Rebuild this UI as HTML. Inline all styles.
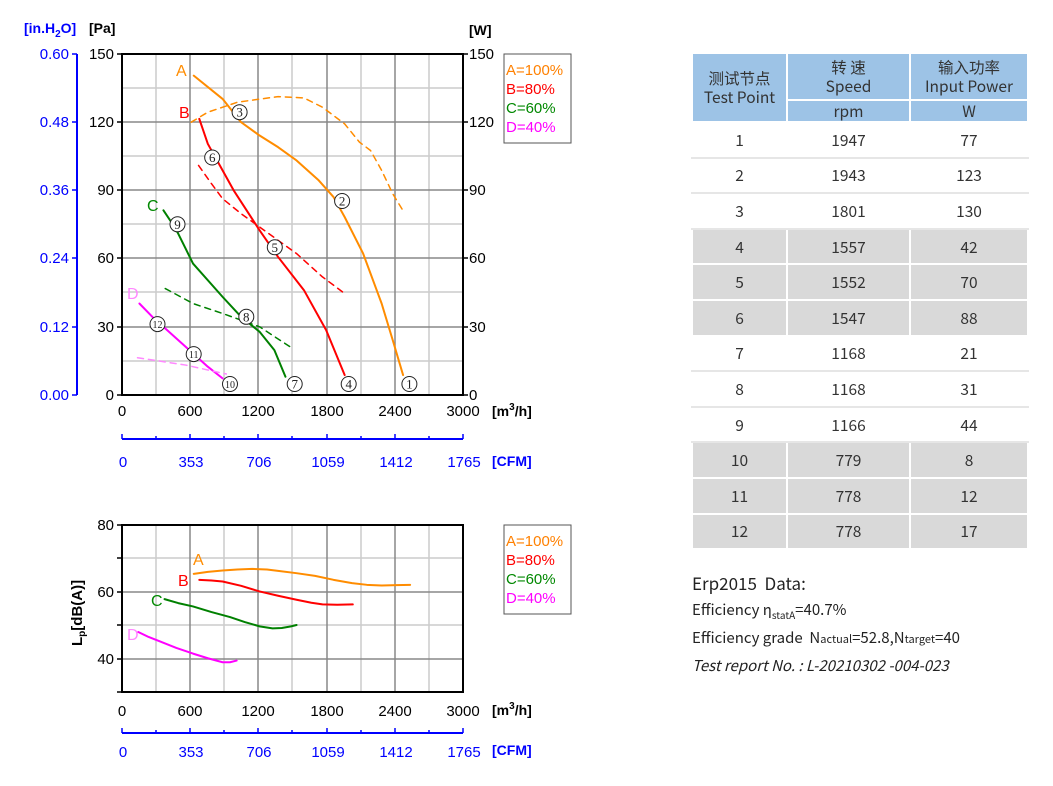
<!DOCTYPE html>
<html><head><meta charset="utf-8"><style>
body{margin:0;background:#fff;width:1053px;height:786px;overflow:hidden;position:relative;font-family:"Liberation Sans","Noto Sans CJK SC",sans-serif}
table{position:absolute;left:691px;top:52px;border-collapse:collapse;font-family:"Noto Sans CJK SC","Liberation Sans",sans-serif;font-size:15.5px;color:#333}
td{text-align:center;padding:0;border:2px solid #fff}
.h{background:#9dc3e6;line-height:19px}
.g td{background:#d9d9d9}
.w td{border-top:2px solid #e6e6e6;border-bottom:2px solid #e6e6e6}
.txt{position:absolute;left:692px;font-family:"Noto Sans CJK SC","Liberation Sans",sans-serif;color:#222;font-size:15px}
polyline{stroke-linejoin:round;stroke-linecap:round}
</style></head><body>
<svg width="1053" height="786" style="position:absolute;left:0;top:0" font-family="Liberation Sans,sans-serif">
<g stroke="#ccc" stroke-width="1.5">
<line x1="156" y1="54" x2="156" y2="395"/><line x1="224" y1="54" x2="224" y2="395"/><line x1="292" y1="54" x2="292" y2="395"/><line x1="361" y1="54" x2="361" y2="395"/><line x1="429" y1="54" x2="429" y2="395"/>
<line x1="122" y1="88" x2="463" y2="88"/><line x1="122" y1="156" x2="463" y2="156"/><line x1="122" y1="224" x2="463" y2="224"/><line x1="122" y1="292" x2="463" y2="292"/><line x1="122" y1="361" x2="463" y2="361"/>
</g>
<g stroke="#888" stroke-width="1.5">
<line x1="190" y1="54" x2="190" y2="395"/><line x1="258" y1="54" x2="258" y2="395"/><line x1="327" y1="54" x2="327" y2="395"/><line x1="395" y1="54" x2="395" y2="395"/>
<line x1="122" y1="122" x2="463" y2="122"/><line x1="122" y1="190" x2="463" y2="190"/><line x1="122" y1="258" x2="463" y2="258"/><line x1="122" y1="327" x2="463" y2="327"/>
</g>
<rect x="122" y="54" width="341" height="341" fill="none" stroke="#000" stroke-width="2"/>
<g stroke="#000" stroke-width="1.5">
<line x1="117" y1="54" x2="122" y2="54"/><line x1="117" y1="122" x2="122" y2="122"/><line x1="117" y1="190" x2="122" y2="190"/><line x1="117" y1="258" x2="122" y2="258"/><line x1="117" y1="327" x2="122" y2="327"/><line x1="117" y1="395" x2="122" y2="395"/>
<line x1="463" y1="54" x2="468" y2="54"/><line x1="463" y1="122" x2="468" y2="122"/><line x1="463" y1="190" x2="468" y2="190"/><line x1="463" y1="258" x2="468" y2="258"/><line x1="463" y1="327" x2="468" y2="327"/><line x1="463" y1="395" x2="468" y2="395"/>
</g>
<line x1="77" y1="54" x2="77" y2="395" stroke="#00f" stroke-width="2"/>
<g stroke="#00f" stroke-width="1.5"><line x1="72" y1="54" x2="77" y2="54"/><line x1="72" y1="122" x2="77" y2="122"/><line x1="72" y1="190" x2="77" y2="190"/><line x1="72" y1="258" x2="77" y2="258"/><line x1="72" y1="327" x2="77" y2="327"/><line x1="72" y1="395" x2="77" y2="395"/></g>
<g fill="#00f" font-size="15" text-anchor="end"><text x="69" y="59">0.60</text><text x="69" y="127">0.48</text><text x="69" y="195">0.36</text><text x="69" y="263">0.24</text><text x="69" y="332">0.12</text><text x="69" y="400">0.00</text></g>
<g fill="#000" font-size="15" text-anchor="end"><text x="114" y="59">150</text><text x="114" y="127">120</text><text x="114" y="195">90</text><text x="114" y="263">60</text><text x="114" y="332">30</text><text x="114" y="400">0</text></g>
<g fill="#000" font-size="15"><text x="469" y="59">150</text><text x="469" y="127">120</text><text x="469" y="195">90</text><text x="469" y="263">60</text><text x="469" y="332">30</text><text x="469" y="400">0</text></g>
<text x="24" y="33" fill="#00f" font-size="14" font-weight="bold">[in.H<tspan font-size="10" dy="4">2</tspan><tspan dy="-4">O]</tspan></text>
<text x="89" y="33" font-size="14" font-weight="bold">[Pa]</text>
<text x="469" y="35" font-size="14" font-weight="bold">[W]</text>
<g font-size="15" text-anchor="middle"><text x="122" y="416">0</text><text x="190" y="416">600</text><text x="258" y="416">1200</text><text x="327" y="416">1800</text><text x="395" y="416">2400</text><text x="463" y="416">3000</text></g>
<text x="492" y="416" font-size="14" font-weight="bold">[m<tspan font-size="10" dy="-6">3</tspan><tspan dy="6">/h]</tspan></text>
<line x1="122" y1="439" x2="463" y2="439" stroke="#00f" stroke-width="2"/>
<g stroke="#00f" stroke-width="1.5"><line x1="122" y1="434" x2="122" y2="439"/><line x1="156" y1="436" x2="156" y2="439"/><line x1="190" y1="434" x2="190" y2="439"/><line x1="224" y1="436" x2="224" y2="439"/><line x1="258" y1="434" x2="258" y2="439"/><line x1="292" y1="436" x2="292" y2="439"/><line x1="327" y1="434" x2="327" y2="439"/><line x1="361" y1="436" x2="361" y2="439"/><line x1="395" y1="434" x2="395" y2="439"/><line x1="429" y1="436" x2="429" y2="439"/><line x1="463" y1="434" x2="463" y2="439"/></g>
<g fill="#00f" font-size="15" text-anchor="middle"><text x="123" y="467">0</text><text x="191" y="467">353</text><text x="259" y="467">706</text><text x="328" y="467">1059</text><text x="396" y="467">1412</text><text x="464" y="467">1765</text></g>
<text x="492" y="466" fill="#00f" font-size="14" font-weight="bold">[CFM]</text>
<rect x="504" y="54" width="67" height="89" fill="none" stroke="#555" stroke-width="1"/>
<g font-size="15"><text x="506" y="75" fill="#ff8000">A=100%</text><text x="506" y="94" fill="#f00">B=80%</text><text x="506" y="113" fill="#080">C=60%</text><text x="506" y="132" fill="#f0f">D=40%</text></g>
<g transform="matrix(0.36985 0 0 0.33268 0.69 10.75)" fill="none">
<polyline vector-effect="non-scaling-stroke" stroke="#ff8c00" stroke-width="2" points="522,195 600,265 650,335 700,375 750,410 800,450 860,510 900,560 930,620 980,730 1030,880 1060,990 1088,1095"/>
<polyline vector-effect="non-scaling-stroke" stroke="#ff8c00" stroke-width="1.5" stroke-dasharray="6,5" points="515,335 560,305 640,275 750,258 820,262 870,290 930,340 970,395 1000,420 1030,480 1060,550 1090,605"/>
<polyline vector-effect="non-scaling-stroke" stroke="#f00" stroke-width="2" points="537,325 560,400 575,430 590,460 630,540 700,660 750,740 820,840 880,960 930,1095"/>
<polyline vector-effect="non-scaling-stroke" stroke="#f00" stroke-width="1.5" stroke-dasharray="6,5" points="535,465 570,520 600,565 650,610 700,650 800,730 870,800 930,850"/>
<polyline vector-effect="non-scaling-stroke" stroke="#008000" stroke-width="2" points="440,600 470,650 480,670 500,715 520,760 600,860 650,920 700,965 740,1020 770,1100"/>
<polyline vector-effect="non-scaling-stroke" stroke="#008000" stroke-width="1.5" stroke-dasharray="6,5" points="445,835 520,880 600,910 700,950 785,1012"/>
<polyline vector-effect="non-scaling-stroke" stroke="#f0f" stroke-width="2" points="375,880 410,920 450,960 500,1010 560,1070 600,1105"/>
<polyline vector-effect="non-scaling-stroke" stroke="#f8f" stroke-width="1.5" stroke-dasharray="6,5" points="370,1043 500,1065 610,1092"/>
</g>
<g font-size="16"><text x="176" y="76" fill="#ff8c00">A</text><text x="179" y="118" fill="#f00">B</text><text x="147" y="211" fill="#080">C</text><text x="127" y="299" fill="#f8f">D</text></g>
<g fill="#fff" stroke="#222" stroke-width="1">
<circle cx="409.4" cy="384" r="7.5"/><circle cx="342.1" cy="201" r="7.5"/><circle cx="239.6" cy="112.2" r="7.5"/><circle cx="348.7" cy="384" r="7.5"/><circle cx="274.8" cy="247.3" r="7.5"/><circle cx="212.2" cy="157.5" r="7.5"/><circle cx="294.7" cy="384" r="7.5"/><circle cx="246.3" cy="316.8" r="7.5"/><circle cx="177.5" cy="224.3" r="7.5"/><circle cx="230" cy="384" r="7.5"/><circle cx="193.7" cy="354.1" r="7.5"/><circle cx="157.5" cy="324.1" r="7.5"/>
</g>
<g font-size="13" text-anchor="middle" fill="#222" font-family="Liberation Serif,serif">
<text x="409.4" y="388.5">1</text><text x="342.1" y="205.5">2</text><text x="239.6" y="116.7">3</text><text x="348.7" y="388.5">4</text><text x="274.8" y="251.8">5</text><text x="212.2" y="162">6</text><text x="294.7" y="388.5">7</text><text x="246.3" y="321.3">8</text><text x="177.5" y="228.8">9</text><text x="230" y="388" font-size="10">10</text><text x="193.7" y="358" font-size="10">11</text><text x="157.5" y="328" font-size="10">12</text>
</g>
<g stroke="#ccc" stroke-width="1.5">
<line x1="156" y1="525" x2="156" y2="692"/><line x1="224" y1="525" x2="224" y2="692"/><line x1="292" y1="525" x2="292" y2="692"/><line x1="361" y1="525" x2="361" y2="692"/><line x1="429" y1="525" x2="429" y2="692"/>
<line x1="122" y1="558" x2="463" y2="558"/><line x1="122" y1="625" x2="463" y2="625"/>
</g>
<g stroke="#888" stroke-width="1.5">
<line x1="190" y1="525" x2="190" y2="692"/><line x1="258" y1="525" x2="258" y2="692"/><line x1="327" y1="525" x2="327" y2="692"/><line x1="395" y1="525" x2="395" y2="692"/>
<line x1="122" y1="592" x2="463" y2="592"/><line x1="122" y1="659" x2="463" y2="659"/>
</g>
<rect x="122" y="525" width="341" height="167" fill="none" stroke="#000" stroke-width="2"/>
<g stroke="#000" stroke-width="1.5"><line x1="117" y1="525" x2="122" y2="525"/><line x1="117" y1="558" x2="122" y2="558"/><line x1="117" y1="592" x2="122" y2="592"/><line x1="117" y1="625" x2="122" y2="625"/><line x1="117" y1="659" x2="122" y2="659"/><line x1="117" y1="692" x2="122" y2="692"/></g>
<g font-size="15" text-anchor="end"><text x="114" y="530">80</text><text x="114" y="597">60</text><text x="114" y="664">40</text></g>
<text transform="translate(82,646) rotate(-90)" font-size="15" font-weight="bold">L<tspan font-size="10" dy="3">p</tspan><tspan dy="-3">[dB(A)]</tspan></text>
<g font-size="15" text-anchor="middle"><text x="122" y="716">0</text><text x="190" y="716">600</text><text x="258" y="716">1200</text><text x="327" y="716">1800</text><text x="395" y="716">2400</text><text x="463" y="716">3000</text></g>
<text x="492" y="715" font-size="14" font-weight="bold">[m<tspan font-size="10" dy="-6">3</tspan><tspan dy="6">/h]</tspan></text>
<line x1="122" y1="733" x2="463" y2="733" stroke="#00f" stroke-width="2"/>
<g stroke="#00f" stroke-width="1.5"><line x1="122" y1="728" x2="122" y2="733"/><line x1="156" y1="730" x2="156" y2="733"/><line x1="190" y1="728" x2="190" y2="733"/><line x1="224" y1="730" x2="224" y2="733"/><line x1="258" y1="728" x2="258" y2="733"/><line x1="292" y1="730" x2="292" y2="733"/><line x1="327" y1="728" x2="327" y2="733"/><line x1="361" y1="730" x2="361" y2="733"/><line x1="395" y1="728" x2="395" y2="733"/><line x1="429" y1="730" x2="429" y2="733"/><line x1="463" y1="728" x2="463" y2="733"/></g>
<g fill="#00f" font-size="15" text-anchor="middle"><text x="123" y="757">0</text><text x="191" y="757">353</text><text x="259" y="757">706</text><text x="328" y="757">1059</text><text x="396" y="757">1412</text><text x="464" y="757">1765</text></g>
<text x="492" y="755" fill="#00f" font-size="14" font-weight="bold">[CFM]</text>
<rect x="504" y="525" width="67" height="89" fill="none" stroke="#555" stroke-width="1"/>
<g font-size="15"><text x="506" y="546" fill="#ff8000">A=100%</text><text x="506" y="565" fill="#f00">B=80%</text><text x="506" y="584" fill="#080">C=60%</text><text x="506" y="603" fill="#f0f">D=40%</text></g>
<g transform="matrix(0.36985 0 0 0.33234 0.69 500.07)" fill="none">
<polyline vector-effect="non-scaling-stroke" stroke="#ff8c00" stroke-width="2" points="522,222 560,216 600,212 640,209 680,207 720,209 750,213 800,220 850,228 900,240 950,250 990,255 1030,257 1070,256 1107,255"/>
<polyline vector-effect="non-scaling-stroke" stroke="#f00" stroke-width="2" points="537,240 570,242 600,245 650,258 700,275 750,288 800,300 840,309 870,314 910,315 952,314"/>
<polyline vector-effect="non-scaling-stroke" stroke="#008000" stroke-width="2" points="443,298 480,310 520,320 570,337 620,352 660,367 700,380 735,386 760,385 785,380 800,376"/>
<polyline vector-effect="non-scaling-stroke" stroke="#f0f" stroke-width="2" points="372,397 400,412 430,425 475,445 520,462 560,476 600,488 620,488 638,483"/>
</g>
<g font-size="16"><text x="193" y="565" fill="#ff8c00">A</text><text x="178" y="586" fill="#f00">B</text><text x="151" y="606" fill="#080">C</text><text x="127" y="640" fill="#f8f">D</text></g>
</svg>
<table>
<tr class="h" style="height:47px"><td rowspan="2" style="width:93px">测试节点<br>Test Point</td><td style="width:121px">转 速<br>Speed</td><td style="width:116px">输入功率<br>Input Power</td></tr>
<tr class="h" style="height:22px"><td>rpm</td><td>W</td></tr>
<tr class="w" style="height:35.6px"><td>1</td><td>1947</td><td>77</td></tr>
<tr class="w" style="height:35.6px"><td>2</td><td>1943</td><td>123</td></tr>
<tr class="w" style="height:35.6px"><td>3</td><td>1801</td><td>130</td></tr>
<tr class="g" style="height:35.6px"><td>4</td><td>1557</td><td>42</td></tr>
<tr class="g" style="height:35.6px"><td>5</td><td>1552</td><td>70</td></tr>
<tr class="g" style="height:35.6px"><td>6</td><td>1547</td><td>88</td></tr>
<tr class="w" style="height:35.6px"><td>7</td><td>1168</td><td>21</td></tr>
<tr class="w" style="height:35.6px"><td>8</td><td>1168</td><td>31</td></tr>
<tr class="w" style="height:35.6px"><td>9</td><td>1166</td><td>44</td></tr>
<tr class="g" style="height:35.6px"><td>10</td><td>779</td><td>8</td></tr>
<tr class="g" style="height:35.6px"><td>11</td><td>778</td><td>12</td></tr>
<tr class="g" style="height:35.6px"><td>12</td><td>778</td><td>17</td></tr>
</table>
<div class="txt" style="top:570px;font-size:17px">Erp2015&nbsp; Data:</div>
<div class="txt" style="top:599px">Efficiency η<sub style="font-size:10px">statA</sub>=40.7%</div>
<div class="txt" style="top:627px">Efficiency grade&nbsp; N<span style="font-size:11px">actual</span>=52.8,N<span style="font-size:11px">target</span>=40</div>
<div class="txt" style="top:655px;font-style:italic">Test report No. : L-20210302 -004-023</div>
</body></html>
